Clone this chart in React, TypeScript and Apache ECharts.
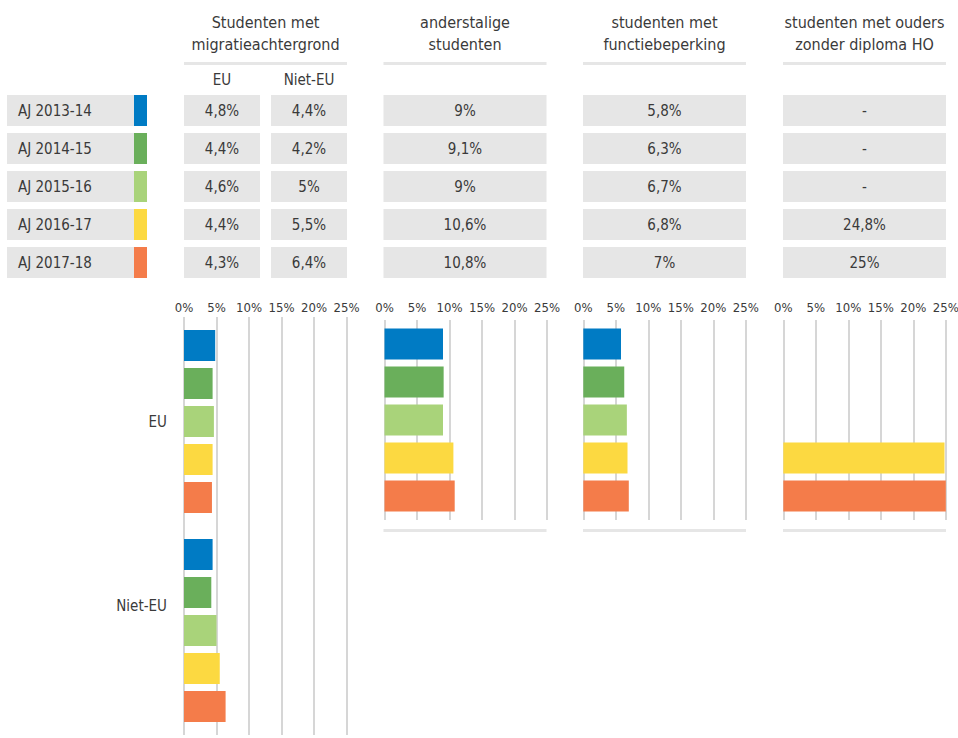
import React, { useEffect, useRef } from "react";
import * as echarts from "echarts";

const years = ["AJ 2013-14", "AJ 2014-15", "AJ 2015-16", "AJ 2016-17", "AJ 2017-18"];
const yearColors = ["#007BC4", "#6AAF5B", "#A9D37A", "#FCD941", "#F47C4A"];
const euValues = [4.8, 4.4, 4.6, 4.4, 4.3];
const nietEuValues = [4.4, 4.2, 5, 5.5, 6.4];
const anderstaligValues = [9, 9.1, 9, 10.6, 10.8];
const functieValues = [5.8, 6.3, 6.7, 6.8, 7];
const oudersValues: (number | null)[] = [null, null, null, 24.8, 25];
const groupCategories = ["EU", "Niet-EU"];
const columnTitles = [
  "Studenten met\nmigratieachtergrond",
  "anderstalige\nstudenten",
  "studenten met\nfunctiebeperking",
  "studenten met ouders\nzonder diploma HO",
];

const FONT = "'Liberation Sans Narrow', 'DejaVu Sans Condensed', Roboto, sans-serif";
const TXT = "#3a3a3a";
const BOX = "#E6E6E6";

const fmt = (v: number | null) => (v == null ? "-" : String(v).replace(".", ",") + "%");

export default function App() {
  const ref = useRef<HTMLDivElement>(null);
  useEffect(() => {
    document.body.style.margin = "0";
    const chart = echarts.init(ref.current!, null, { renderer: "svg" });

    const colX = [184, 383.5, 583, 783]; // left edges of the 4 columns
    const colW = 163;
    const rowY = (i: number) => 95 + i * 38;
    const rowH = 31;

    const g: any[] = [];
    const txt = (x: number, y: number, text: string, size: number, align = "center", lh?: number) => ({
      type: "text",
      x,
      y,
      silent: true,
      style: {
        text,
        fill: TXT,
        fontSize: size,
        fontFamily: FONT,
        textAlign: align,
        textVerticalAlign: "middle",
        lineHeight: lh,
      },
    });
    const rect = (x: number, y: number, w: number, h: number, fill: string) => ({
      type: "rect",
      silent: true,
      shape: { x, y, width: w, height: h },
      style: { fill },
    });

    // column headers
    columnTitles.forEach((t, c) => {
      g.push(txt(colX[c] + colW / 2, 33, t, 16, "center", 22));
      g.push(rect(colX[c], 62, colW, 3, BOX));
    });
    g.push(txt(222, 80, "EU", 15));
    g.push(txt(309, 80, "Niet-EU", 15));

    // rows
    years.forEach((y, i) => {
      const top = rowY(i);
      const cy = top + rowH / 2;
      g.push(rect(7, top, 127, rowH, BOX));
      g.push(rect(134, top, 13, rowH, yearColors[i]));
      g.push(txt(18, cy, y, 15, "left"));
      g.push(rect(184, top, 76, rowH, BOX));
      g.push(txt(222, cy, fmt(euValues[i]), 15));
      g.push(rect(271, top, 76, rowH, BOX));
      g.push(txt(309, cy, fmt(nietEuValues[i]), 15));
      const others = [anderstaligValues[i], functieValues[i], oudersValues[i]];
      others.forEach((v, k) => {
        g.push(rect(colX[k + 1], top, colW, rowH, BOX));
        g.push(txt(colX[k + 1] + colW / 2, cy, fmt(v), 15));
      });
    });
    // bottom bars under single-group charts
    for (let c = 1; c < 4; c++) g.push(rect(colX[c], 529, colW, 3, BOX));

    const gridLefts = [184, 384.5, 583.3, 783.3];
    const grids = gridLefts.map((l, i) =>
      i === 0
        ? { left: l, top: 317, width: 162.5, height: 418, containLabel: false, outerBoundsMode: "none" }
        : { left: l, top: 320, width: 162.5, height: 200, containLabel: false, outerBoundsMode: "none" }
    );
    const xAxes = gridLefts.map((_, i) => ({
      gridIndex: i,
      type: "value",
      min: 0,
      max: 25,
      interval: 5,
      position: "top",
      axisLine: { show: false },
      axisTick: { show: false },
      axisLabel: {
        formatter: "{value}%",
        color: TXT,
        fontSize: 13,
        fontFamily: FONT,
        margin: i === 0 ? 3 : 6,
      },
      splitLine: { show: true, lineStyle: { color: "#C8C8C8", width: 1.5 } },
    }));
    const yAxes = gridLefts.map((_, i) => ({
      gridIndex: i,
      type: "category",
      inverse: true,
      data: i === 0 ? groupCategories : [groupCategories[0]],
      axisLine: { show: false },
      axisTick: { show: false },
      axisLabel:
        i === 0
          ? {
              show: true,
              margin: 17,
              formatter: (v: string) => (v === "EU" ? `{eu|${v}}` : `{niet|${v}}`),
              rich: {
                eu: { color: TXT, fontSize: 15, fontFamily: FONT },
                niet: { color: TXT, fontSize: 15, fontFamily: FONT, padding: [0, 0, 50, 0] },
              },
            }
          : { show: false },
    }));

    const series: any[] = [];
    const dataSets: (number | null)[][][] = [
      years.map((_, i) => [euValues[i], nietEuValues[i]]),
      years.map((_, i) => [anderstaligValues[i]]),
      years.map((_, i) => [functieValues[i]]),
      years.map((_, i) => [oudersValues[i]]),
    ];
    dataSets.forEach((set, gi) => {
      set.forEach((d, yi) => {
        series.push({
          type: "bar",
          name: years[yi],
          xAxisIndex: gi,
          yAxisIndex: gi,
          data: d,
          barWidth: 31,
          barGap: "22.6%",
          itemStyle: { color: yearColors[yi] },
          silent: true,
        });
      });
    });

    chart.setOption({
      animation: false,
      backgroundColor: "#ffffff",
      textStyle: { fontFamily: FONT },
      grid: grids,
      xAxis: xAxes,
      yAxis: yAxes,
      series,
      graphic: g,
    });
    return () => chart.dispose();
  }, []);
  return <div ref={ref} style={{ width: 958, height: 738 }} />;
}
